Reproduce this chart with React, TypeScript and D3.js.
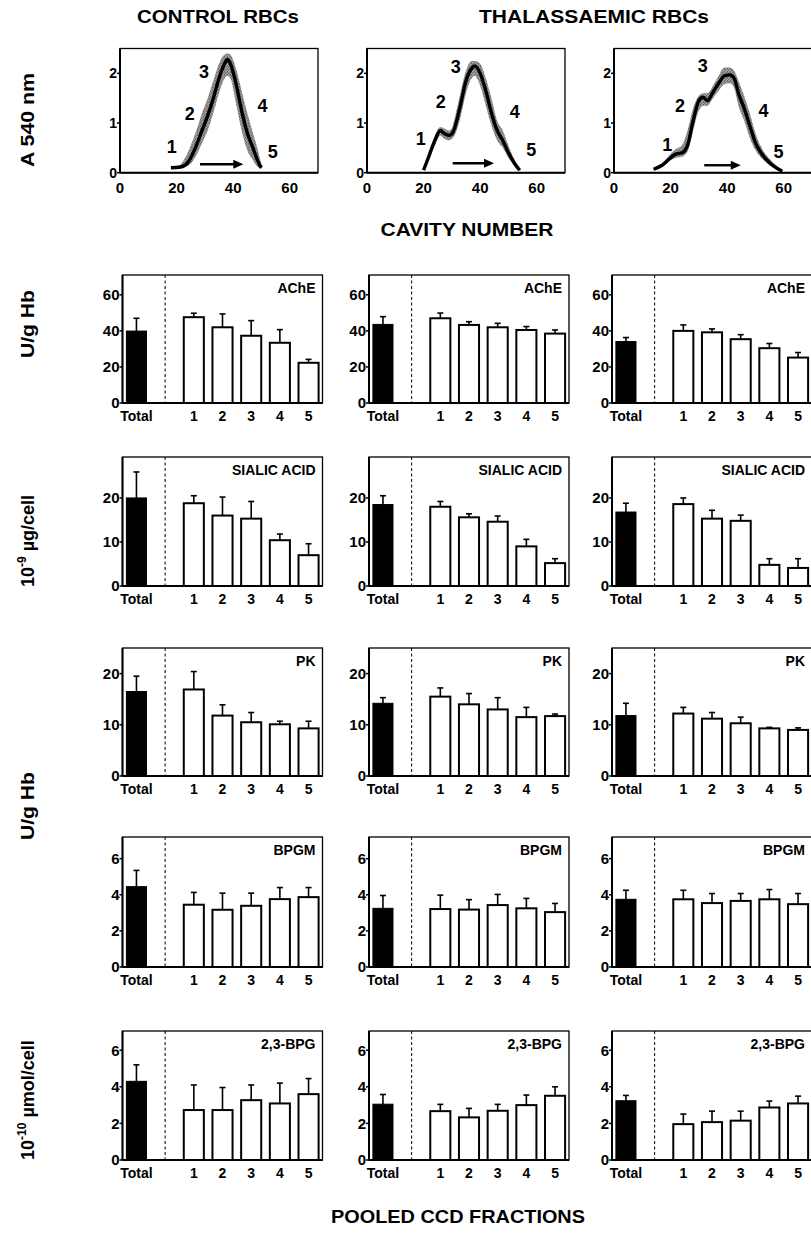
import React from 'react'
import * as d3 from 'd3'

// ---- top row: CCD absorbance profiles (cavity number vs A 540 nm)
const ctrlCavity = [18, 21, 23, 25, 27, 29, 31, 33, 35, 37, 38, 39, 41, 43, 45, 47, 49, 50]
const ctrlAbs = [0.1, 0.11, 0.15, 0.3, 0.55, 0.85, 1.15, 1.5, 1.9, 2.2, 2.28, 2.2, 1.8, 1.25, 0.8, 0.5, 0.2, 0.1]
const ctrlLo = [0.1, 0.1, 0.12, 0.18, 0.35, 0.6, 0.85, 1.2, 1.6, 1.9, 1.95, 1.9, 1.4, 0.85, 0.45, 0.25, 0.1, 0.08]
const ctrlHi = [0.12, 0.15, 0.3, 0.55, 0.85, 1.2, 1.5, 1.85, 2.2, 2.38, 2.4, 2.38, 2.1, 1.65, 1.2, 0.8, 0.4, 0.15]

const thalACavity = [20, 22, 24, 26, 27, 29, 30, 31, 33, 35, 37, 38, 40, 42, 44, 46, 48, 50, 52, 54]
const thalAAbs = [0.05, 0.35, 0.65, 0.85, 0.8, 0.75, 0.78, 0.9, 1.35, 1.85, 2.1, 2.15, 2.0, 1.65, 1.2, 0.85, 0.65, 0.4, 0.2, 0.05]
const thalALo = [0.05, 0.3, 0.55, 0.75, 0.7, 0.65, 0.68, 0.75, 1.1, 1.6, 1.9, 1.95, 1.75, 1.35, 0.95, 0.65, 0.5, 0.3, 0.15, 0.05]
const thalAHi = [0.06, 0.4, 0.75, 0.92, 0.9, 0.85, 0.9, 1.1, 1.6, 2.05, 2.25, 2.25, 2.2, 1.9, 1.5, 1.05, 0.85, 0.55, 0.28, 0.08]

const thalBCavity = [14, 17, 20, 22, 24, 26, 28, 30, 31.5, 33, 35, 37, 39, 41, 42.5, 44, 46, 48, 50, 52, 55, 59.5]
const thalBAbs = [0.07, 0.15, 0.3, 0.38, 0.4, 0.55, 1.05, 1.45, 1.52, 1.45, 1.62, 1.8, 1.95, 1.97, 1.9, 1.6, 1.3, 0.95, 0.6, 0.4, 0.2, 0.03]
const thalBLo = [0.06, 0.12, 0.25, 0.3, 0.32, 0.42, 0.85, 1.25, 1.35, 1.35, 1.5, 1.65, 1.78, 1.8, 1.7, 1.35, 1.05, 0.7, 0.45, 0.3, 0.15, 0.02]
const thalBHi = [0.08, 0.18, 0.38, 0.48, 0.55, 0.85, 1.3, 1.55, 1.6, 1.6, 1.75, 1.95, 2.12, 2.12, 2.05, 1.85, 1.55, 1.2, 0.8, 0.52, 0.28, 0.05]

// fraction number markers [cavity, absorbance] and the arrow [from, to, level]
const ctrlMarks = [[18.3, 0.52], [24.7, 1.2], [29.7, 2.04], [50.4, 1.36], [54, 0.42]]
const thalAMarks = [[19, 0.69], [26.1, 1.43], [31.4, 2.14], [52.2, 1.23], [58.1, 0.46]]
const thalBMarks = [[18.8, 0.56], [23.3, 1.35], [31.4, 2.15], [52.9, 1.25], [58.2, 0.42]]
const arrows = [[28.3, 43.6, 0.17], [30.3, 44.9, 0.19], [31.9, 44.8, 0.15]]

const cavityTicks = [0, 20, 40, 60]
const absTicks = [0, 1, 2]

// ---- bar rows: Total + pooled fractions 1..5, per column (control, thal, thal)
const fractions = ['Total', '1', '2', '3', '4', '5']

const acheMean = [[39.9, 47.6, 42.0, 37.3, 33.4, 22.3], [43.6, 47.0, 43.3, 42.0, 40.5, 38.5], [34.1, 40.0, 39.2, 35.4, 30.4, 25.2]]
const acheTop = [[47.0, 49.8, 49.4, 45.7, 40.7, 24.2], [47.9, 49.9, 45.1, 44.2, 42.4, 40.5], [36.3, 43.3, 41.1, 37.9, 33.0, 28.0]]

const sialicMean = [[20.0, 18.8, 16.0, 15.3, 10.4, 7.0], [18.5, 18.0, 15.6, 14.6, 9.0, 5.2], [16.8, 18.6, 15.3, 14.8, 4.8, 4.1]]
const sialicTop = [[25.9, 20.5, 20.2, 19.2, 11.8, 9.6], [20.5, 19.2, 16.4, 15.9, 10.6, 6.2], [18.8, 20.0, 17.2, 16.1, 6.2, 6.2]]

const pkMean = [[16.5, 16.9, 11.8, 10.5, 10.1, 9.3], [14.2, 15.5, 14.0, 13.0, 11.5, 11.7], [11.8, 12.2, 11.2, 10.3, 9.3, 9.0]]
const pkTop = [[19.5, 20.4, 13.9, 12.4, 10.7, 10.7], [15.3, 17.2, 16.1, 15.3, 13.4, 12.1], [14.2, 13.4, 12.4, 11.5, 9.5, 9.4]]

const bpgmMean = [[4.45, 3.45, 3.17, 3.39, 3.76, 3.87], [3.25, 3.21, 3.18, 3.43, 3.25, 3.04], [3.75, 3.75, 3.54, 3.66, 3.75, 3.48]]
const bpgmTop = [[5.35, 4.13, 4.09, 4.09, 4.4, 4.4], [3.96, 3.98, 3.73, 4.02, 3.8, 3.52], [4.25, 4.25, 4.07, 4.07, 4.29, 4.07]]

const bpgMean = [[4.3, 2.73, 2.73, 3.27, 3.09, 3.6], [3.05, 2.67, 2.33, 2.69, 3.0, 3.51], [3.24, 1.96, 2.07, 2.15, 2.87, 3.09]]
const bpgTop = [[5.2, 4.1, 3.96, 4.1, 4.2, 4.45], [3.58, 3.04, 2.82, 3.04, 3.55, 4.0], [3.53, 2.51, 2.67, 2.67, 3.22, 3.49]]

const FONT = "'Liberation Sans', Arial, sans-serif"

const curvePanels = [
  { left: 120, cav: ctrlCavity, abs: ctrlAbs, lo: ctrlLo, hi: ctrlHi, marks: ctrlMarks, arrow: arrows[0] },
  { left: 367, cav: thalACavity, abs: thalAAbs, lo: thalALo, hi: thalAHi, marks: thalAMarks, arrow: arrows[1] },
  { left: 614, cav: thalBCavity, abs: thalBAbs, lo: thalBLo, hi: thalBHi, marks: thalBMarks, arrow: arrows[2] },
]
const curveTop = 48.5
const curveBottom = 172.7
const curveW = 198

const barCols = [122.5, 369, 612]
const barW = 200
const barRows = [
  { name: 'AChE', mean: acheMean, top: acheTop, y0: 275, y1: 403, max: 71, ticks: [0, 20, 40, 60] },
  { name: 'SIALIC ACID', mean: sialicMean, top: sialicTop, y0: 457, y1: 586, max: 29.3, ticks: [0, 10, 20] },
  { name: 'PK', mean: pkMean, top: pkTop, y0: 648, y1: 776, max: 25, ticks: [0, 10, 20] },
  { name: 'BPGM', mean: bpgmMean, top: bpgmTop, y0: 837, y1: 967, max: 7.2, ticks: [0, 2, 4, 6] },
  { name: '2,3-BPG', mean: bpgMean, top: bpgTop, y0: 1031, y1: 1160, max: 7.05, ticks: [0, 2, 4, 6] },
]

function CurvePanel({ p }: { p: any }) {
  const h = curveBottom - curveTop
  const x = d3.scaleLinear([0, 70], [0, curveW])
  const y = d3.scaleLinear([0, 2.5], [h, 0])
  const idx = d3.range(p.cav.length)
  const line = d3.line<number>().x(i => x(p.cav[i])).y(i => y(p.abs[i])).curve(d3.curveMonotoneX)
  const band = d3.area<number>().x(i => x(p.cav[i])).y0(i => y(p.lo[i])).y1(i => y(p.hi[i])).curve(d3.curveMonotoneX)
  const [a0, a1, ay] = p.arrow
  return (
    <g transform={`translate(${p.left},${curveTop})`}>
      <path d={band(idx) || ''} fill="url(#stipple)" />
      <path d={line(idx) || ''} fill="none" stroke="#000" strokeWidth={3.4} strokeLinejoin="round" />
      <rect x={0} y={0} width={curveW} height={h} fill="none" stroke="#000" strokeWidth={1.3} />
      <line x1={0} x2={0} y1={0} y2={h} stroke="#000" strokeWidth={2} />
      <line x1={0} x2={curveW} y1={h} y2={h} stroke="#000" strokeWidth={2} />
      {absTicks.map(t => (
        <g key={t}>
          <line x1={-3} x2={0} y1={y(t)} y2={y(t)} stroke="#000" strokeWidth={1.5} />
          <text x={-3} y={y(t)} dy="0.36em" textAnchor="end" fontSize={14} fontWeight="bold">{t}</text>
        </g>
      ))}
      {cavityTicks.map(t => (
        <text key={t} x={x(t)} y={h + 20} textAnchor="middle" fontSize={15} fontWeight="bold">{t}</text>
      ))}
      {p.marks.map((m: number[], i: number) => (
        <text key={i} x={x(m[0])} y={y(m[1])} dy="0.36em" textAnchor="middle" fontSize={18} fontWeight="bold">{i + 1}</text>
      ))}
      <line x1={x(a0)} x2={x(a1) - 6} y1={y(ay)} y2={y(ay)} stroke="#000" strokeWidth={2.4} />
      <path d={`M${x(a1)},${y(ay)} l-10,-4.5 v9 z`} fill="#000" />
    </g>
  )
}

function BarPanel({ left, row, col }: { left: number; row: any; col: number }) {
  const h = row.y1 - row.y0
  const slots = ['Total', 'gap', '1', '2', '3', '4', '5']
  const x = d3.scaleBand<string>(slots, [0, barW]).paddingInner(0.3).paddingOuter(0.136)
  const y = d3.scaleLinear([0, row.max], [h, 0])
  const bw = x.bandwidth()
  const gapX = (x('gap') as number) + bw / 2
  const means: number[] = row.mean[col]
  const tops: number[] = row.top[col]
  return (
    <g transform={`translate(${left},${row.y0})`}>
      <rect x={0} y={0} width={barW} height={h} fill="none" stroke="#000" strokeWidth={1.3} />
      <line x1={gapX} x2={gapX} y1={0} y2={h} stroke="#000" strokeWidth={1} strokeDasharray="3,2.5" />
      {fractions.map((f, i) => {
        const bx = x(f) as number
        const cx = bx + bw / 2
        return (
          <g key={f}>
            <line x1={cx} x2={cx} y1={y(means[i])} y2={y(tops[i])} stroke="#000" strokeWidth={1.6} />
            <line x1={cx - 3} x2={cx + 3} y1={y(tops[i])} y2={y(tops[i])} stroke="#000" strokeWidth={1.6} />
            <rect x={bx} y={y(means[i])} width={bw} height={h - y(means[i])}
              fill={i === 0 ? '#000' : '#fff'} stroke="#000" strokeWidth={i === 0 ? 1 : 2} />
            <text x={cx} y={h + 18} textAnchor="middle" fontSize={14} fontWeight="bold">{f}</text>
          </g>
        )
      })}
      <line x1={0} x2={0} y1={0} y2={h} stroke="#000" strokeWidth={2} />
      <line x1={0} x2={barW} y1={h} y2={h} stroke="#000" strokeWidth={2} />
      {row.ticks.map((t: number) => (
        <g key={t}>
          <line x1={-3} x2={0} y1={y(t)} y2={y(t)} stroke="#000" strokeWidth={1.5} />
          <text x={-3} y={y(t)} dy="0.36em" textAnchor="end" fontSize={15} fontWeight="bold">{t}</text>
        </g>
      ))}
      <text x={barW - 7} y={18} textAnchor="end" fontSize={14} fontWeight="bold">{row.name}</text>
    </g>
  )
}

function SideLabel({ y, children, len, anchor = 'middle' }: { y: number; children: React.ReactNode; len?: number; anchor?: string }) {
  return (
    <text transform={`translate(34,${y}) rotate(-90)`} textAnchor={anchor} fontSize={18} fontWeight="bold"
      textLength={len} lengthAdjust={len ? 'spacingAndGlyphs' : undefined}>{children}</text>
  )
}

export default function App() {
  return (
    <svg width={811} height={1234} style={{ position: 'absolute', left: 0, top: 0, background: '#fff' }}
      fontFamily={FONT}>
      <defs>
        <pattern id="stipple" width={3} height={3} patternUnits="userSpaceOnUse">
          <rect width={3} height={3} fill="#bdbdbd" />
          <circle cx={0.8} cy={0.8} r={0.75} fill="#333" />
          <circle cx={2.3} cy={2.3} r={0.75} fill="#333" />
        </pattern>
      </defs>
      <text x={218} y={23} textAnchor="middle" fontSize={18} fontWeight="bold" textLength={162} lengthAdjust="spacingAndGlyphs">CONTROL RBCs</text>
      <text x={594} y={23} textAnchor="middle" fontSize={18} fontWeight="bold" textLength={230} lengthAdjust="spacingAndGlyphs">THALASSAEMIC RBCs</text>
      {curvePanels.map((p, i) => <CurvePanel key={i} p={p} />)}
      <text x={467} y={236} textAnchor="middle" fontSize={18} fontWeight="bold" textLength={173} lengthAdjust="spacingAndGlyphs">CAVITY NUMBER</text>
      {barRows.map((row, r) => barCols.map((left, c) => <BarPanel key={`${r}-${c}`} left={left} row={row} col={c} />))}
      <SideLabel y={120} len={94}>A 540 nm</SideLabel>
      <SideLabel y={324} len={68}>U/g Hb</SideLabel>
      <SideLabel y={587} anchor="start">
        <tspan>10</tspan><tspan fontSize={12} dy={-8}>-9</tspan><tspan dy={8}> µg/cell</tspan>
      </SideLabel>
      <SideLabel y={806} len={68}>U/g Hb</SideLabel>
      <SideLabel y={1160} anchor="start">
        <tspan>10</tspan><tspan fontSize={12} dy={-8}>-10</tspan><tspan dy={8}> µmol/cell</tspan>
      </SideLabel>
      <text x={458} y={1223} textAnchor="middle" fontSize={18} fontWeight="bold" textLength={254} lengthAdjust="spacingAndGlyphs">POOLED CCD FRACTIONS</text>
    </svg>
  )
}
